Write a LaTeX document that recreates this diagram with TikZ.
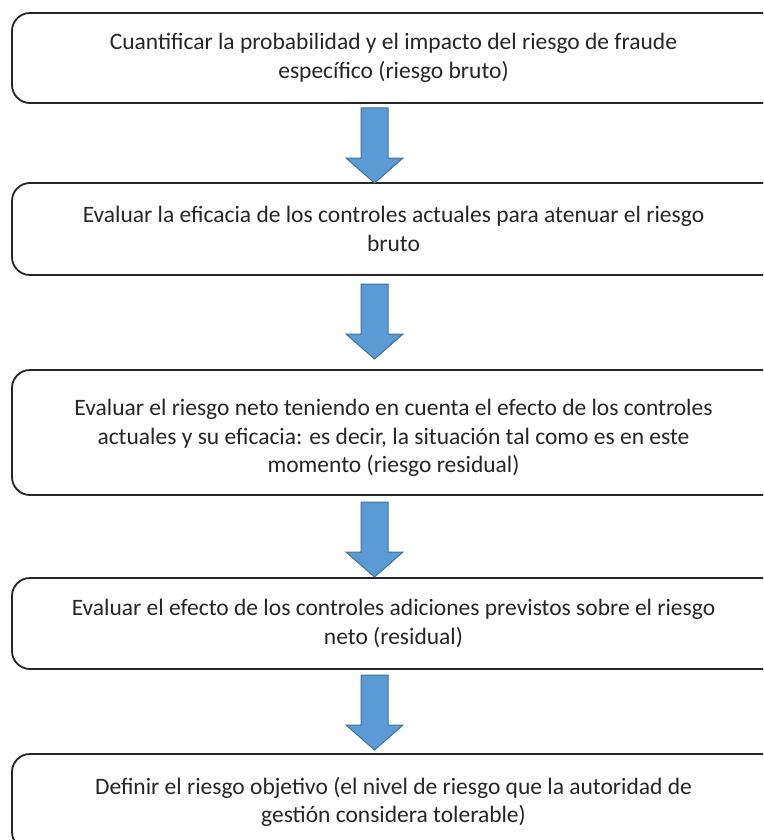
\documentclass[tikz,border=0pt]{standalone}
\usepackage{fontspec}
\setmainfont{Carlito}
\definecolor{txt}{HTML}{262626}
\definecolor{arrfill}{HTML}{5B9BD5}
\definecolor{arrline}{HTML}{41719C}
\begin{document}
\begin{tikzpicture}[x=1pt,y=1pt,
  stepbox/.style={draw=txt, line width=1.8pt, rounded corners=18pt, fill=white,
    minimum width=790pt, inner sep=0pt},
  steptext/.style={align=center, text=txt, inner sep=0pt,
    font=\fontsize{23.5}{28.5}\selectfont},
  blockarr/.pic={\draw[fill=arrfill, draw=arrline, line width=1pt, line join=miter]
    (-13.5,0) -- (13.5,0) -- (13.5,-50) -- (28.5,-50) -- (0,-75)
    -- (-28.5,-50) -- (-13.5,-50) -- cycle;}]
\useasboundingbox (0,0) rectangle (763,-840);
\clip (0,0) rectangle (763,-840);
\fill[white] (0,0) rectangle (763,-840);

\node[stepbox, minimum height=90pt] (b1) at (407,-58) {};
\node[steptext] (t1) at (393.5,-58)
  {Cuantificar la probabilidad y el impacto del riesgo de fraude\\específico (riesgo bruto)};
\node[stepbox, minimum height=92pt] (b2) at (407,-229) {};
\node[steptext] (t2) at (393.5,-229)
  {Evaluar la eficacia de los controles actuales para atenuar el riesgo\\bruto};
\node[stepbox, minimum height=125pt] (b3) at (407,-432.5) {};
\node[steptext] (t3) at (393.5,-438)
  {Evaluar el riesgo neto teniendo en cuenta el efecto de los controles\\actuales y su eficacia: es decir, la situación tal como es en este\\momento (riesgo residual)};
\node[stepbox, minimum height=91pt] (b4) at (407,-623.5) {};
\node[steptext] (t4) at (393.5,-623.5)
  {Evaluar el efecto de los controles adiciones previstos sobre el riesgo\\neto (residual)};
\node[stepbox, minimum height=96pt] (b5) at (407,-802) {};
\node[steptext] (t5) at (393.5,-802)
  {Definir el riesgo objetivo (el nivel de riesgo que la autoridad de\\gestión considera tolerable)};

\pic at (374.5,-108) {blockarr};
\pic at (374.5,-284) {blockarr};
\pic at (374.5,-502) {blockarr};
\pic at (374.5,-675) {blockarr};
\end{tikzpicture}
\end{document}
